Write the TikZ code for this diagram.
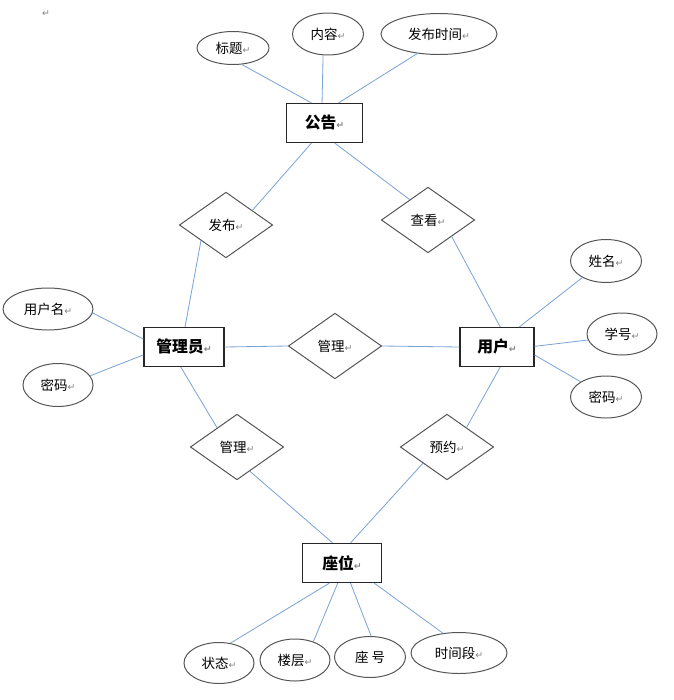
\documentclass[tikz,border=0pt]{standalone}
\usepackage{fontspec}
\setmainfont{Noto Sans CJK SC}
\newfontfamily\symfont{DejaVu Sans}
\usetikzlibrary{shapes.geometric}
\definecolor{linkblue}{HTML}{7BA3D6}
\definecolor{edgegray}{HTML}{555555}
\newcommand{\ret}{{\symfont\fontsize{8}{8}\selectfont\color{gray}↵}}
\tikzset{entity/.style={draw=black!85,line width=1pt,minimum height=1.17cm,inner sep=0pt,font=\fontsize{13.5}{14}\selectfont\bfseries},
         attr/.style={draw=edgegray,ellipse,line width=0.85pt,inner sep=0pt,font=\fontsize{11.5}{12}\selectfont},
         rel/.style={draw=edgegray,diamond,line width=0.85pt,inner sep=0pt,minimum width=2.8cm,minimum height=1.97cm,font=\fontsize{11.5}{12}\selectfont},
         line/.style={linkblue,line width=0.7pt}
     }
\begin{document}
\begin{tikzpicture}[x=0.03cm,y=-0.03cm]
\useasboundingbox (0,0) rectangle (674,700);
\node (mark) at (46,14) {\ret};
% entities
\node[entity,minimum width=2.28cm] (gg) at (324.5,123) {公告\ret};
\node[entity,minimum width=2.4cm] (gly) at (184,347) {管理员\ret};
\node[entity,minimum width=2.22cm] (yh) at (497,347) {用户\ret};
\node[entity,minimum width=2.37cm] (zw) at (342,563) {座位\ret};
% relations
\node[rel] (fb) at (226,225) {发布\ret};
\node[rel] (ck) at (428,220) {查看\ret};
\node[rel] (gl1) at (335,346) {管理\ret};
\node[rel] (gl2) at (237,447) {管理\ret};
\node[rel] (yy) at (447,447) {预约\ret};
% attributes
\node[attr,minimum width=2.16cm,minimum height=0.99cm] (bt) at (233,48) {标题\ret};
\node[attr,minimum width=2.13cm,minimum height=1.26cm] (nr) at (328,34) {内容\ret};
\node[attr,minimum width=3.48cm,minimum height=1.23cm] (fbsj) at (439,34) {发布时间\ret};
\node[attr,minimum width=2.7cm,minimum height=1.26cm] (yhm) at (48,309) {用户名\ret};
\node[attr,minimum width=2.1cm,minimum height=1.29cm] (mm1) at (58,385) {密码\ret};
\node[attr,minimum width=2.13cm,minimum height=1.29cm] (xm) at (606,261) {姓名\ret};
\node[attr,minimum width=2.1cm,minimum height=1.26cm] (xh) at (622,334) {学号\ret};
\node[attr,minimum width=2.13cm,minimum height=1.26cm] (mm2) at (606,397) {密码\ret};
\node[attr,minimum width=2.1cm,minimum height=1.23cm] (zt) at (219,663) {状态\ret};
\node[attr,minimum width=2.1cm,minimum height=1.26cm] (lc) at (295,660) {楼层\ret};
\node[attr,minimum width=2.13cm,minimum height=1.23cm] (zh) at (370,657) {座 号};
\node[attr,minimum width=2.88cm,minimum height=1.23cm] (sjd) at (459,653) {时间段\ret};
% links
\draw[line] (gg.123) -- (bt.-62);
\draw[line] (gg.97) -- (nr.-103);
\draw[line] (gg.55) -- (fbsj.-138);
\draw[line] (gg.-123) -- (fb.29);
\draw[line] (gg.-63) -- (ck.132);
\draw[line] (ck.-35) -- (yh.81);
\draw[line] (fb.-148) -- (gly.87);
\draw[line] (gly.east) -- (gl1.west);
\draw[line] (gl1.east) -- (yh.west);
\draw[line] (yhm.-5) -- (gly.169);
\draw[line] (mm1.16) -- (gly.-169);
\draw[line] (gly.-99) -- (gl2.136);
\draw[line] (gl2.-62) -- (zw.115);
\draw[line] (yh.-81) -- (yy.45);
\draw[line] (yy.-146) -- (zw.67);
\draw[line] (yh.42) -- (xm.-145);
\draw[line] (yh.1) -- (xh.-170);
\draw[line] (yh.-12) -- (mm2.149);
\draw[line] (zw.-122) -- (zt.60);
\draw[line] (zw.-102) -- (lc.45);
\draw[line] (zw.-67) -- (zh.87);
\draw[line] (zw.-32) -- (sjd.129);
\end{tikzpicture}
\end{document}
